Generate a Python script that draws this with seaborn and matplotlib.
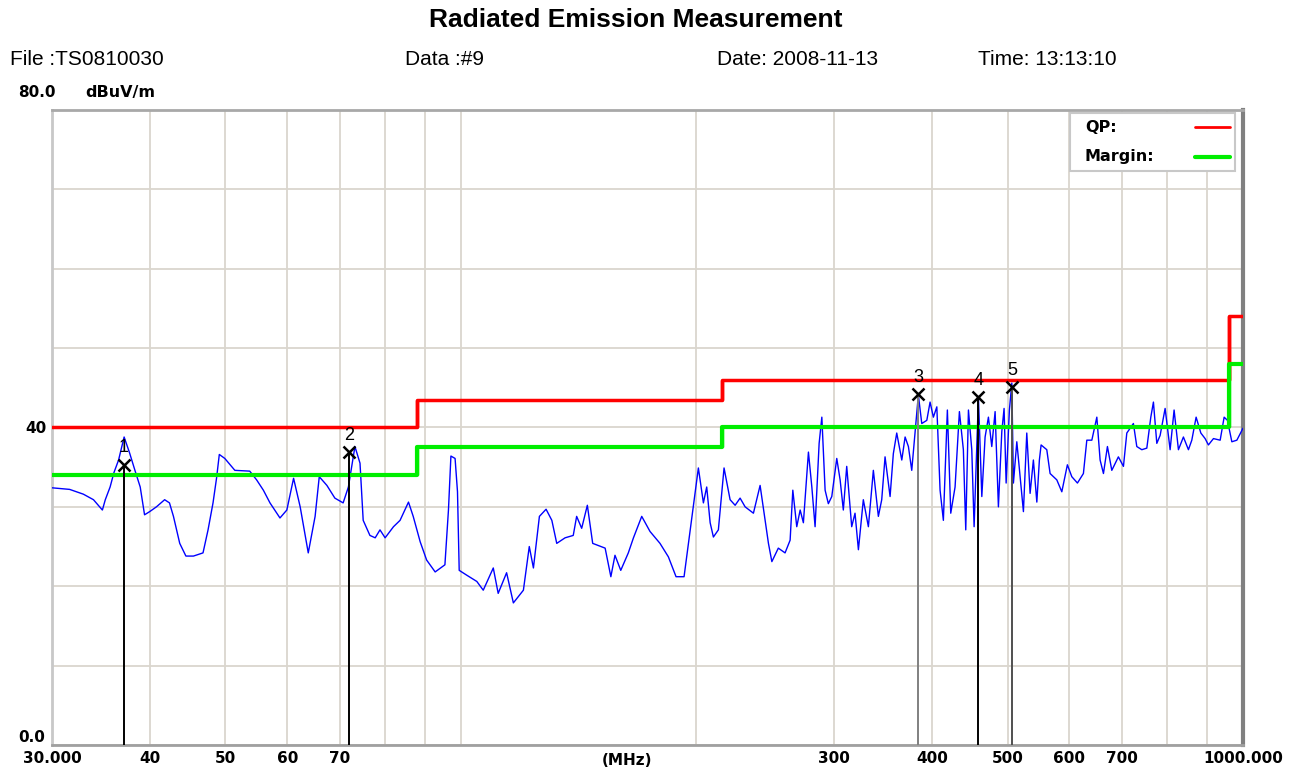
import numpy as np
import pandas as pd
import matplotlib
matplotlib.use("Agg")
import matplotlib.pyplot as plt
from matplotlib.ticker import NullLocator
from matplotlib.patches import Rectangle
import seaborn as sns

# measured trace (MHz, dBuV/m)
trace_freq = [
    30.0, 31.6, 32.9, 33.9, 34.8, 35.1, 35.6, 36.0, 36.5, 37.1, 37.7, 38.3, 38.9, 39.4, 40.0,
    40.8, 41.8, 42.4, 42.9, 43.7, 44.5, 45.5, 46.8, 47.5, 48.2, 48.7, 49.1, 49.9, 51.4, 53.7,
    54.8, 55.9, 57.0, 58.7, 59.9, 61.1, 62.3, 63.8, 65.1, 65.9, 67.4, 69.0, 70.7, 71.8, 73.2,
    74.3, 75.0, 76.5, 77.7, 78.8, 80.0, 82.0, 83.6, 85.7, 86.9, 88.7, 90.4, 92.7, 95.4, 96.4,
    97.1, 98.3, 99.0, 99.5, 101.7, 104.8, 106.8, 110.0, 111.6, 114.4, 116.7, 120.2, 122.3, 123.8, 126.0,
    128.5, 130.7, 132.6, 135.9, 139.2, 140.6, 142.7, 145.1, 147.4, 152.9, 155.5, 157.4, 160.1, 163.7, 166.2,
    170.3, 174.5, 179.7, 184.2, 188.4, 192.9, 195.9, 201.2, 204.2, 206.2, 208.3, 210.3, 213.4, 217.0, 220.9,
    224.2, 227.5, 230.9, 236.6, 241.3, 244.9, 247.3, 249.8, 254.6, 259.7, 263.6, 265.7, 268.8, 271.5, 274.1,
    278.2, 281.0, 283.7, 287.1, 289.4, 292.2, 295.0, 298.0, 302.4, 305.4, 308.3, 311.4, 316.0, 319.1, 322.3,
    327.0, 331.9, 336.8, 341.8, 345.2, 348.6, 353.8, 357.2, 360.8, 366.2, 369.8, 373.4, 377.1, 380.8, 384.5,
    388.4, 394.2, 398.0, 401.9, 406.0, 409.9, 413.9, 418.8, 423.0, 428.4, 433.9, 439.0, 442.1, 445.6, 450.0,
    453.1, 458.9, 463.5, 468.0, 472.6, 477.3, 482.0, 486.7, 491.6, 494.9, 497.9, 502.7, 506.3, 508.7, 513.8,
    518.8, 523.9, 529.1, 534.3, 539.5, 545.0, 549.1, 551.9, 561.2, 566.7, 578.0, 586.6, 596.3, 604.1, 614.2,
    625.1, 631.4, 640.8, 650.3, 656.6, 663.1, 670.9, 679.6, 692.9, 703.3, 710.3, 724.2, 731.5, 742.4, 753.4,
    762.3, 768.2, 775.9, 783.5, 795.1, 806.9, 816.4, 826.9, 839.1, 851.6, 860.1, 871.1, 883.3, 894.5, 903.2,
    916.7, 935.0, 946.0, 955.3, 967.7, 982.1, 1000.0,
]
trace_level = [
    32.4, 32.2, 31.6, 30.9, 29.6, 30.9, 32.5, 34.3, 35.9, 38.8, 36.8, 34.6, 32.5, 29.0, 29.4,
    30.0, 30.9, 30.5, 28.8, 25.4, 23.8, 23.8, 24.2, 27.1, 30.5, 33.6, 36.6, 36.1, 34.6, 34.5,
    33.4, 32.1, 30.5, 28.6, 29.6, 33.6, 30.0, 24.2, 28.8, 33.8, 32.7, 31.1, 30.5, 32.5, 37.6,
    35.5, 28.3, 26.4, 26.1, 27.1, 26.1, 27.5, 28.3, 30.6, 28.8, 25.6, 23.3, 21.8, 22.7, 29.6,
    36.4, 36.1, 31.9, 22.0, 21.4, 20.6, 19.5, 22.3, 19.1, 21.7, 17.9, 19.5, 25.0, 22.3, 28.8,
    29.7, 28.3, 25.4, 26.1, 26.4, 28.8, 27.3, 30.2, 25.4, 24.8, 21.2, 23.9, 22.0, 24.2, 26.1,
    28.8, 26.9, 25.4, 23.7, 21.2, 21.2, 26.2, 34.9, 30.5, 32.5, 28.0, 26.2, 27.1, 34.9, 30.9,
    30.2, 31.1, 30.0, 29.2, 32.7, 28.3, 25.4, 23.1, 24.8, 24.2, 25.8, 32.1, 27.5, 29.6, 28.0,
    36.9, 32.5, 27.5, 38.0, 41.3, 32.1, 30.4, 31.3, 36.1, 33.4, 29.6, 35.1, 27.5, 29.2, 24.6,
    30.9, 27.5, 34.6, 28.8, 30.9, 36.3, 31.3, 36.7, 39.3, 35.9, 38.8, 37.6, 34.6, 39.3, 44.1,
    40.5, 40.9, 43.2, 41.3, 42.6, 32.1, 28.3, 42.2, 29.2, 32.5, 42.0, 37.2, 27.1, 42.2, 37.2,
    27.5, 43.8, 31.3, 38.8, 41.3, 37.6, 42.0, 30.0, 39.5, 42.4, 33.0, 42.2, 45.6, 33.0, 38.2,
    33.8, 29.4, 39.3, 31.7, 35.9, 30.6, 35.9, 37.8, 37.2, 34.2, 33.4, 31.9, 35.3, 33.8, 33.0,
    34.2, 38.4, 38.4, 41.3, 35.9, 34.2, 37.6, 34.6, 36.3, 35.1, 39.3, 40.5, 37.6, 37.2, 37.4,
    41.3, 43.2, 38.0, 39.0, 42.4, 37.2, 42.2, 37.2, 38.8, 37.2, 38.4, 41.3, 39.3, 38.6, 37.8,
    38.6, 38.4, 41.3, 40.9, 38.2, 38.4, 39.9,
]

# limit lines
limit_edges = [30, 88, 216, 960, 1000]
qp_levels = [40.0, 43.5, 46.0, 54.0]
margin_levels = [34.0, 37.5, 40.0, 48.0]

# marked points
marker_ids = ["1", "2", "3", "4", "5"]
marker_freq = [37.1, 71.9, 384.5, 458.9, 506.3]
marker_level = [35.3, 36.9, 44.2, 43.8, 45.1]
marker_colors = ["black", "black", "#808080", "black", "#505050"]

xtick_values = [30, 40, 50, 60, 70, 80, 90, 100, 200, 300, 400, 500, 600, 700, 800, 900, 1000]
xtick_labels = ["30.000", "40", "50", "60", "70", "", "", "", "", "300", "400", "500",
                "600", "700", "", "", "1000.000"]


def steps(edges, levels):
    xs, ys = [], []
    for i, lv in enumerate(levels):
        xs += [edges[i], edges[i + 1]]
        ys += [lv, lv]
    return xs, ys


sns.set_theme(style="white")
plt.rcParams["font.family"] = ["Liberation Sans", "DejaVu Sans"]
plt.rcParams["text.color"] = "black"
plt.rcParams["xtick.color"] = "black"
plt.rcParams["ytick.color"] = "black"

fig = plt.figure(figsize=(12.96, 7.74), dpi=100)
ax = fig.add_axes([0.0401, 0.0375, 0.919, 0.8204])

df = pd.DataFrame({"freq": trace_freq, "level": trace_level})
sns.lineplot(data=df, x="freq", y="level", ax=ax, color="#0000ff", lw=1.0,
             estimator=None, sort=False, zorder=3)

qx, qy = steps(limit_edges, qp_levels)
mx, my = steps(limit_edges, margin_levels)
# vertical joins of the step lines
for i in range(1, len(limit_edges) - 1):
    ax.vlines(limit_edges[i], qp_levels[i - 1], qp_levels[i], color="#ff0000", lw=2.5, zorder=4)
    ax.vlines(limit_edges[i], margin_levels[i - 1], margin_levels[i], color="#00ee00", lw=2.5, zorder=4)
sns.lineplot(x=qx, y=qy, ax=ax, color="#ff0000", lw=2.5, estimator=None, sort=False, zorder=4)
sns.lineplot(x=mx, y=my, ax=ax, color="#00ee00", lw=3.0, estimator=None, sort=False, zorder=4)

for mid, f, lv, c in zip(marker_ids, marker_freq, marker_level, marker_colors):
    ax.vlines(f, 0, lv, color=c, lw=1.4, zorder=5)
    ax.plot(f, lv, marker="x", color="black", ms=9, mew=1.8, zorder=6)
    ax.annotate(mid, (f, lv), xytext=(0, 6), textcoords="offset points",
                ha="center", va="bottom", fontsize=13, color="black", zorder=6)

ax.set_xscale("log")
ax.set_xlim(30, 1000)
ax.set_ylim(0, 80)
ax.set_xticks(xtick_values)
ax.set_xticklabels(xtick_labels, fontsize=11, fontweight="bold",
                   family=["DejaVu Sans"])
ax.xaxis.set_minor_locator(NullLocator())
ax.set_yticks(range(0, 81, 10))
ax.set_yticklabels(["" if v != 40 else "40" for v in range(0, 81, 10)],
                   fontsize=11, fontweight="bold", family=["DejaVu Sans"])
ax.tick_params(length=0, pad=4)
ax.grid(True, color="#dad6ce", lw=1.3)
ax.set_axisbelow(True)
ax.set_xlabel("")
ax.set_ylabel("")

for side, col, w in [("left", "#c8c8c8", 2.0), ("bottom", "#a0a0a0", 2.0),
                     ("top", "#a8a8a8", 2.0), ("right", "#808080", 3.0)]:
    ax.spines[side].set_color(col)
    ax.spines[side].set_linewidth(w)
    ax.spines[side].set_visible(True)

ax.text(-0.006, 0, "0.0", transform=ax.get_yaxis_transform(), ha="right", va="bottom",
        fontsize=11, fontweight="bold", family=["DejaVu Sans"])
ax.text(0.483, -0.024, "(MHz)", transform=ax.transAxes, ha="center", va="center",
        fontsize=11, fontweight="bold", family=["DejaVu Sans"])

# legend box: labels on the left, line samples on the right
ax.add_patch(Rectangle((0.8547, 0.9039), 0.1386, 0.0914, transform=ax.transAxes,
                       facecolor="white", edgecolor="#c8c8c8", lw=1.5, zorder=7))
legend_rows = [("QP:", "#ff0000", 2.0, 0.9732), ("Margin:", "#00ee00", 3.0, 0.926)]
for lab, col, w, yy in legend_rows:
    ax.text(0.8673, yy, lab, transform=ax.transAxes, ha="left", va="center",
            fontsize=11.5, fontweight="bold", family=["DejaVu Sans"], zorder=8)
    ax.plot([0.9597, 0.9891], [yy, yy], transform=ax.transAxes, color=col, lw=w, zorder=8)

fig.text(0.4907, 0.974, "Radiated Emission Measurement", ha="center", va="center",
         fontsize=19, fontweight="bold")
header_y = 0.9225
fig.text(0.0077, header_y, "File :TS0810030", ha="left", va="center", fontsize=15)
fig.text(0.3125, header_y, "Data :#9", ha="left", va="center", fontsize=15)
fig.text(0.553, header_y, "Date: 2008-11-13", ha="left", va="center", fontsize=15)
fig.text(0.7546, header_y, "Time: 13:13:10", ha="left", va="center", fontsize=15)
fig.text(0.0139, 0.881, "80.0", ha="left", va="center", fontsize=11, fontweight="bold",
         family=["DejaVu Sans"])
fig.text(0.0656, 0.881, "dBuV/m", ha="left", va="center", fontsize=11.5, fontweight="bold",
         family=["DejaVu Sans"])

fig.savefig("out.png", dpi=100)
